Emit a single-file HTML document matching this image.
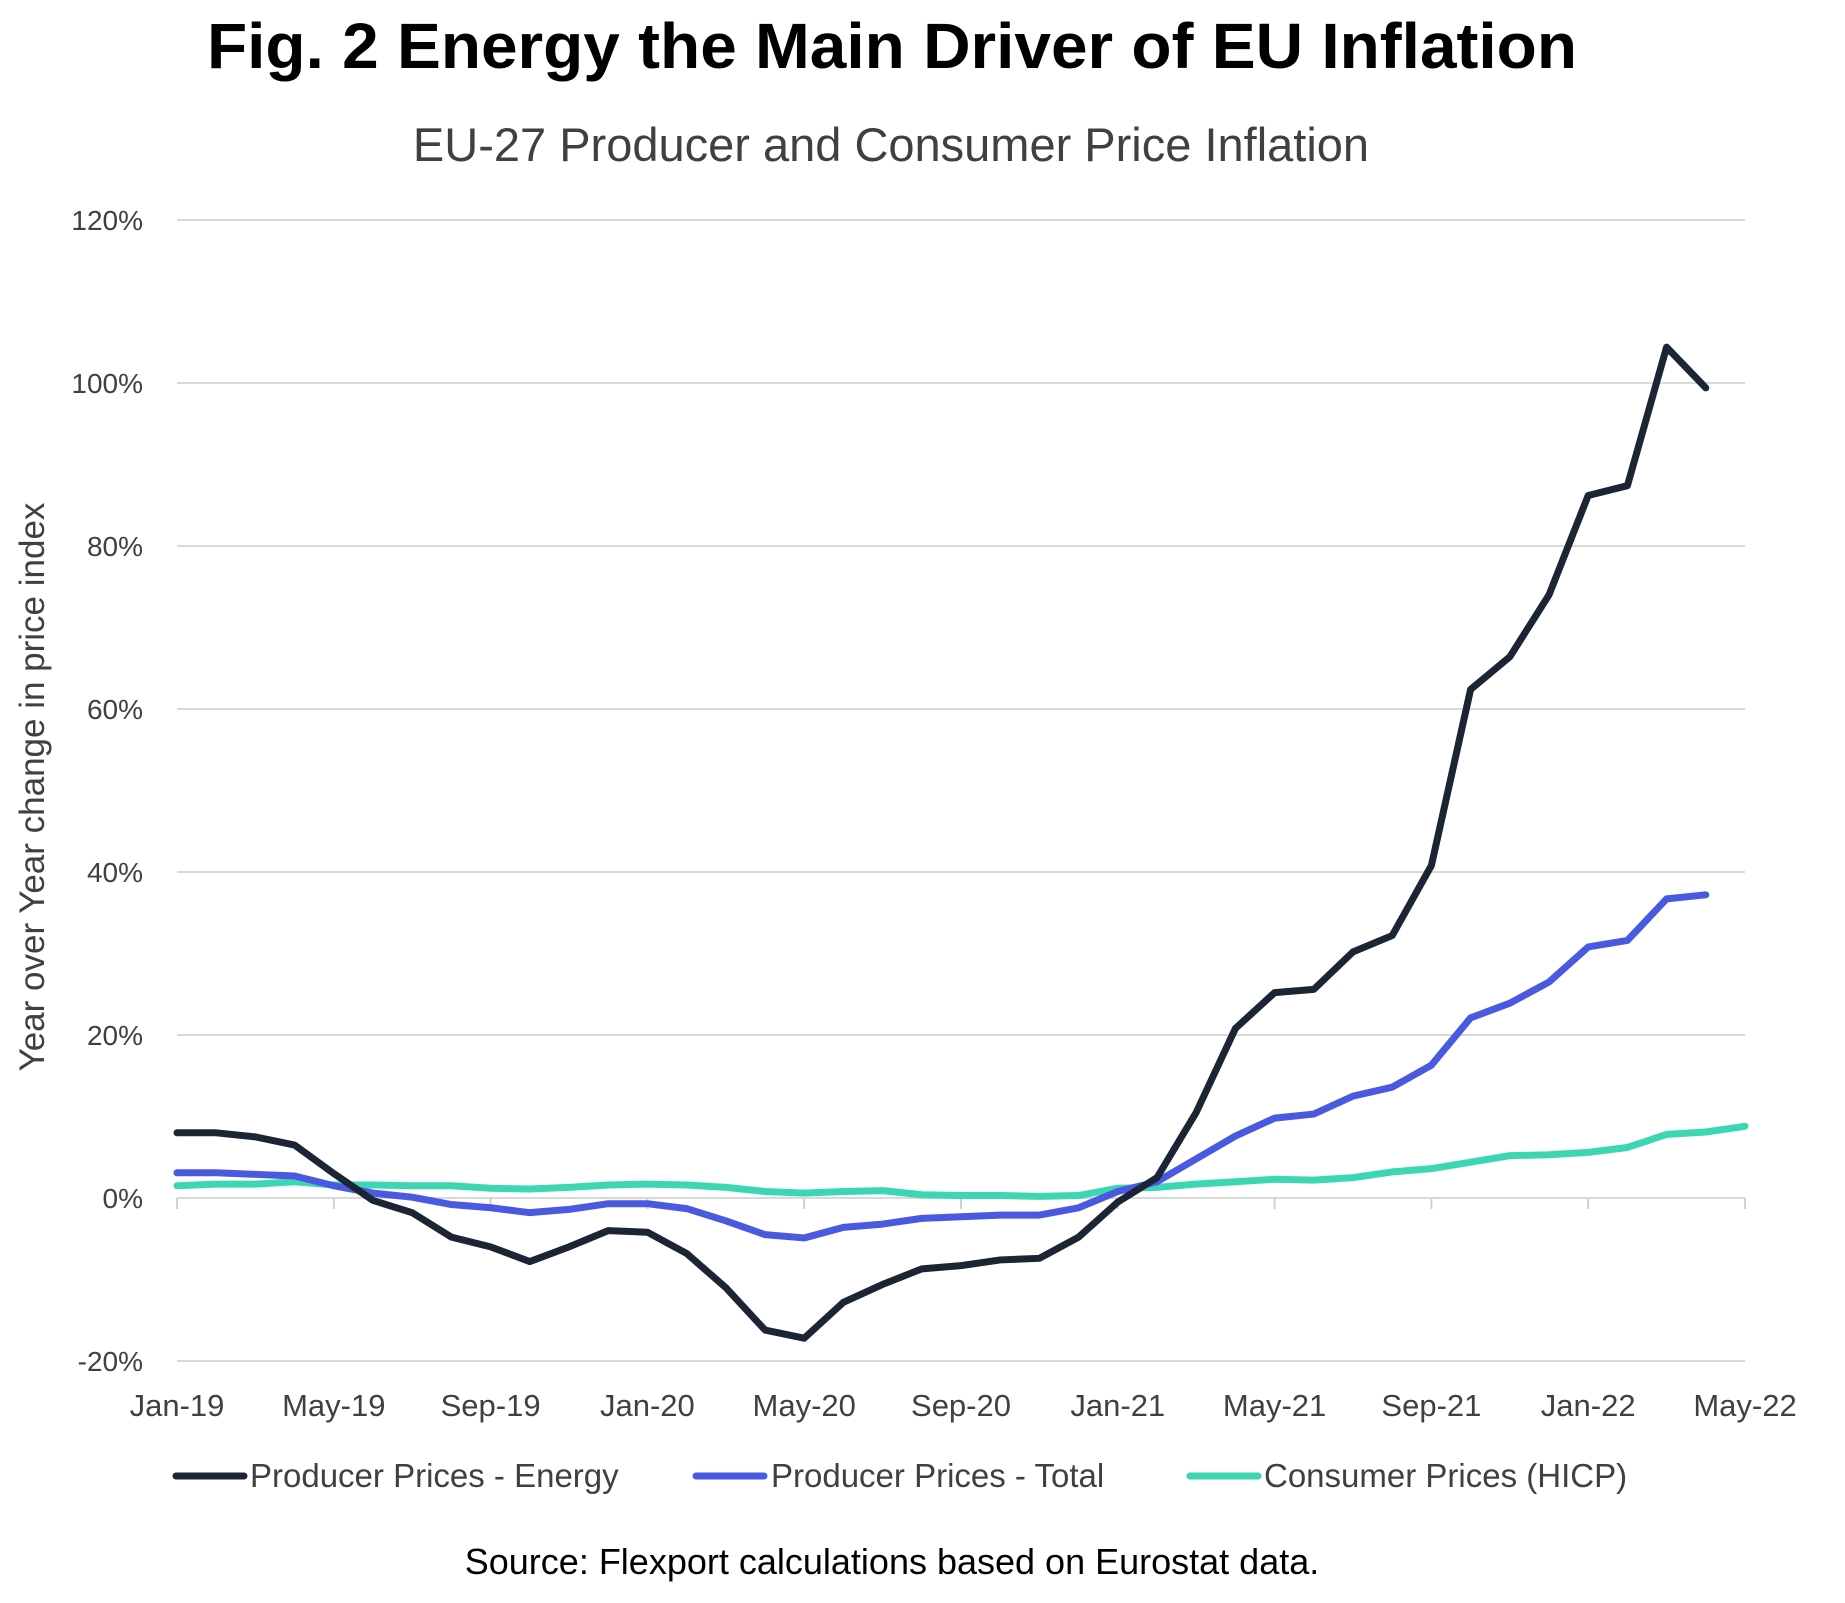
<!DOCTYPE html>
<html><head><meta charset="utf-8">
<style>
body{margin:0;background:#fff;}
svg{display:block;font-family:"Liberation Sans",sans-serif;}
</style></head>
<body>
<svg id="chart" width="1845" height="1603" viewBox="0 0 1845 1603">
<text x="892" y="68" text-anchor="middle" font-size="64" font-weight="bold" fill="#000" textLength="1370" lengthAdjust="spacingAndGlyphs">Fig. 2 Energy the Main Driver of EU Inflation</text>
<text x="891" y="161" text-anchor="middle" font-size="47" fill="#404040">EU-27 Producer and Consumer Price Inflation</text>
<text transform="translate(44,787) rotate(-90)" text-anchor="middle" font-size="35" fill="#404040">Year over Year change in price index</text>
<g id="grid"></g><g id="yticks"></g><g id="xticks"></g><g id="series"></g>
<g>
<g><line x1="176" y1="1476" x2="244" y2="1476" stroke="#1c2533" stroke-width="7" stroke-linecap="round"/><text x="250" y="1487" font-size="33" fill="#404040">Producer Prices - Energy</text></g>
<g><line x1="696" y1="1476" x2="764" y2="1476" stroke="#4a5ae0" stroke-width="7" stroke-linecap="round"/><text x="771" y="1487" font-size="33" fill="#404040">Producer Prices - Total</text></g>
<g><line x1="1190" y1="1476" x2="1258" y2="1476" stroke="#3dd6b3" stroke-width="7" stroke-linecap="round"/><text x="1264" y="1487" font-size="33" fill="#404040">Consumer Prices (HICP)</text></g>
</g>
<text x="892" y="1574" text-anchor="middle" font-size="36" fill="#000">Source: Flexport calculations based on Eurostat data.</text>
</svg>
<script>
const yTicks=[-20,0,20,40,60,80,100,120];
const xTickLabels=["Jan-19","May-19","Sep-19","Jan-20","May-20","Sep-20","Jan-21","May-21","Sep-21","Jan-22","May-22"];
const energy=[8,8,7.5,6.5,3,-0.3,-1.8,-4.8,-6,-7.8,-6,-4,-4.2,-6.8,-11,-16.2,-17.2,-12.8,-10.6,-8.7,-8.3,-7.6,-7.4,-4.8,-0.5,2.5,10.5,20.8,25.2,25.6,30.2,32.2,40.8,62.4,66.4,74,86.2,87.4,104.4,99.4];
const total=[3.1,3.1,2.9,2.7,1.5,0.6,0.1,-0.8,-1.2,-1.8,-1.4,-0.7,-0.7,-1.3,-2.8,-4.5,-4.9,-3.6,-3.2,-2.5,-2.3,-2.1,-2.1,-1.2,0.8,2.0,4.8,7.6,9.8,10.3,12.5,13.6,16.3,22.1,23.9,26.5,30.8,31.6,36.7,37.2];
const hicp=[1.5,1.7,1.7,2.0,1.6,1.6,1.5,1.5,1.2,1.1,1.3,1.6,1.7,1.6,1.3,0.8,0.6,0.8,0.9,0.4,0.3,0.3,0.2,0.3,1.2,1.3,1.7,2.0,2.3,2.2,2.5,3.2,3.6,4.4,5.2,5.3,5.6,6.2,7.8,8.1,8.8];
const X0=177,X1=1745,Y0=1198,Y120=220,NM=40;
const xs=i=>X0+(X1-X0)*i/NM;
const ys=v=>Y0-(Y0-Y120)*v/120;
const NS="http://www.w3.org/2000/svg";
function mk(tag,attrs,parent){const e=document.createElementNS(NS,tag);for(const k in attrs)e.setAttribute(k,attrs[k]);parent.appendChild(e);return e;}
const grid=document.getElementById('grid'),yt=document.getElementById('yticks'),xt=document.getElementById('xticks'),ser=document.getElementById('series');
yTicks.forEach(v=>{
 const l=mk('line',{x1:X0,x2:X1,y1:ys(v),y2:ys(v),stroke:'#d9d9d9','stroke-width':2},grid);
 
 
 const t=mk('text',{x:143,y:ys(v)+10,'text-anchor':'end','font-size':28,fill:'#404040'},yt);
 t.textContent=v+'%';
 
 
});
xTickLabels.forEach((s,i)=>{
 const x=xs(i*4);
 const tk=mk('line',{x1:x,x2:x,y1:Y0,y2:Y0+11,stroke:'#d0d0d0','stroke-width':2},xt);
 
 
 const t=mk('text',{x:x,y:1416,'text-anchor':'middle','font-size':31,fill:'#404040'},xt);
 t.textContent=s;
 
 
});
function line(data,color,name){
 const p=mk('polyline',{points:data.map((v,i)=>xs(i)+','+ys(v)).join(' '),fill:'none',stroke:color,'stroke-width':7,'stroke-linejoin':'round','stroke-linecap':'round'},ser);
 
 
}
line(hicp,'#3dd6b3','line-hicp');
line(total,'#4a5ae0','line-producer-total');
line(energy,'#1c2533','line-producer-energy');
</script>
</body></html>
